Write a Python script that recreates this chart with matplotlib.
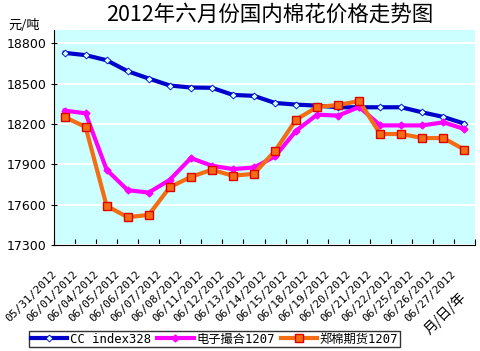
import numpy as np
import matplotlib.pyplot as plt
from matplotlib.ticker import FixedLocator, NullFormatter

plt.rcParams['font.family'] = ['DejaVu Sans', 'Noto Sans CJK SC']

# data
dates = ['05/31/2012', '06/01/2012', '06/04/2012', '06/05/2012', '06/06/2012',
         '06/07/2012', '06/08/2012', '06/11/2012', '06/12/2012', '06/13/2012',
         '06/14/2012', '06/15/2012', '06/18/2012', '06/19/2012', '06/20/2012',
         '06/21/2012', '06/22/2012', '06/25/2012', '06/26/2012', '06/27/2012']
cc_index = [18730, 18713, 18675, 18593, 18539, 18487, 18472, 18470, 18417, 18410,
            18357, 18345, 18337, 18325, 18325, 18325, 18325, 18287, 18253, 18203]
dianzi = [18300, 18280, 17860, 17708, 17690, 17785, 17947, 17890, 17865, 17877,
          17959, 18150, 18270, 18263, 18327, 18190, 18190, 18190, 18213, 18163]
zhengmian = [18253, 18178, 17591, 17507, 17524, 17730, 17807, 17860, 17815, 17830,
             18000, 18233, 18327, 18342, 18372, 18126, 18126, 18096, 18096, 18009]
yticks = [17300, 17600, 17900, 18200, 18500, 18800]

fig = plt.figure(figsize=(4.81, 3.51), dpi=100)
ax = fig.add_axes([0.1123, 0.302, 0.8752, 0.6125])
ax.set_facecolor('#ccffff')

x = np.arange(len(dates))
ax.plot(x, cc_index, color='#0000cc', lw=3, marker='D', ms=3.5,
        mfc='#ccffff', mec='#0000cc', mew=0.6, label='CC index328', zorder=3)
ax.plot(x, dianzi, color='#ff00ff', lw=3, marker='D', ms=3.5,
        mfc='#ff00ff', mec='#ff00ff', label='电子撮合1207', zorder=3)
ax.plot(x, zhengmian, color='#f26d14', lw=3, marker='s', ms=6,
        mfc='#f26d14', mec='#e00000', mew=1, label='郑棉期货1207', zorder=4)

ax.set_xlim(-0.5, len(dates) - 0.5)
ax.set_ylim(17300, 18900)
ax.set_yticks(yticks)
ax.tick_params(axis='y', labelsize=9, length=4, direction='inout')
ax.grid(axis='y', color='white', lw=1.5)
ax.set_axisbelow(True)

ax.xaxis.set_major_locator(FixedLocator(np.arange(len(dates) + 1) - 0.5))
ax.xaxis.set_major_formatter(NullFormatter())
ax.tick_params(axis='x', length=4, direction='in')
for i, d in enumerate(dates):
    ax.text(i - 0.3, 17120, d, rotation=45, ha='right', va='top',
            fontsize=8, family='DejaVu Sans Mono')

for s in ['top', 'right']:
    ax.spines[s].set_visible(False)

fig.text(0.56, 0.958, '2012年六月份国内棉花价格走势图', ha='center', va='center',
         fontsize=15.5, family=['Noto Sans CJK SC'])
fig.text(0.017, 0.928, '元/吨', ha='left', va='center', fontsize=9.5,
         family=['Noto Sans CJK SC'])
fig.text(0.925, 0.108, '月/日/年', rotation=45, ha='center', va='center',
         fontsize=10, family=['Noto Sans CJK SC'])

leg = fig.legend(loc='lower left', bbox_to_anchor=(0.06, 0.01), ncol=3,
                 frameon=True, fancybox=False, edgecolor='black',
                 prop={'family': ['DejaVu Sans Mono', 'Noto Sans CJK SC'], 'size': 8.8},
                 handlelength=3.0, handletextpad=0.2, columnspacing=0.5,
                 borderpad=0.15, borderaxespad=0)
leg.get_frame().set_linewidth(1)

fig.savefig('out.png', dpi=100)
